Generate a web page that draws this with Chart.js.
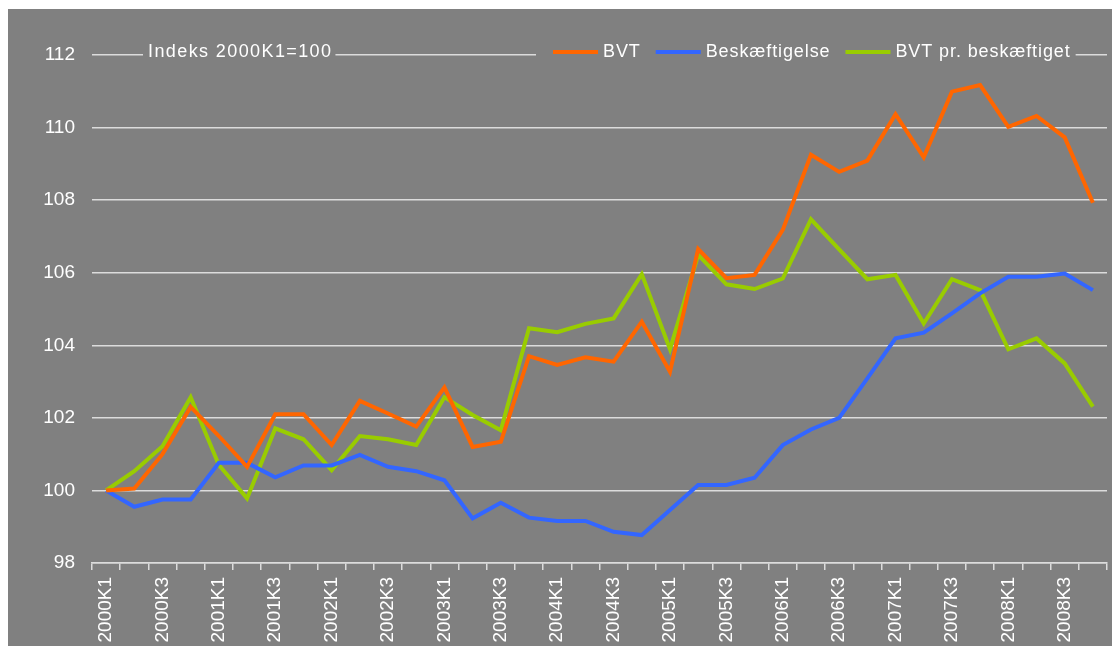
<!DOCTYPE html>
<html>
<head>
<meta charset="utf-8">
<script src="https://cdn.jsdelivr.net/npm/chart.js@4.4.1/dist/chart.umd.min.js"></script>
<style>
  html, body { margin: 0; padding: 0; background: #fff; }
  #wrap { position: absolute; left: 8px; top: 9px; width: 1104px; height: 637px; background: #808080; }
  canvas { display: block; }
</style>
</head>
<body>
<div id="wrap"><canvas id="c" width="1104" height="637"></canvas></div>
<script>
/* BVT, beskæftigelse og BVT pr. beskæftiget, indeks 2000K1=100 */

const NOTE = 'Indeks 2000K1=100';

const quarters = [
  '2000K1', '2000K2', '2000K3', '2000K4', '2001K1', '2001K2', '2001K3', '2001K4',
  '2002K1', '2002K2', '2002K3', '2002K4', '2003K1', '2003K2', '2003K3', '2003K4',
  '2004K1', '2004K2', '2004K3', '2004K4', '2005K1', '2005K2', '2005K3', '2005K4',
  '2006K1', '2006K2', '2006K3', '2006K4', '2007K1', '2007K2', '2007K3', '2007K4',
  '2008K1', '2008K2', '2008K3', '2008K4',
];

const bvt = [
  100.0, 100.05, 101.0, 102.3, 101.5, 100.65, 102.1, 102.1,
  101.25, 102.47, 102.12, 101.76, 102.84, 101.2, 101.34, 103.7,
  103.46, 103.67, 103.55, 104.65, 103.27, 106.65, 105.85, 105.94,
  107.18, 109.25, 108.78, 109.09, 110.37, 109.18, 110.99, 111.17,
  110.02, 110.32, 109.73, 107.93,
];

const beskaeftigelse = [
  100.0, 99.55, 99.75, 99.75, 100.76, 100.76, 100.36, 100.69,
  100.69, 100.98, 100.65, 100.53, 100.28, 99.23, 99.66, 99.25,
  99.16, 99.16, 98.86, 98.77, 99.46, 100.15, 100.15, 100.35,
  101.25, 101.68, 102.0, 103.09, 104.19, 104.35, 104.88, 105.43,
  105.89, 105.89, 105.98, 105.52,
];

const bvtPrBesk = [
  100.0, 100.53, 101.22, 102.57, 100.7, 99.78, 101.71, 101.41,
  100.56, 101.5, 101.41, 101.25, 102.57, 102.08, 101.66, 104.47,
  104.36, 104.59, 104.74, 105.96, 103.89, 106.49, 105.68, 105.55,
  105.84, 107.47, 106.64, 105.82, 105.94, 104.6, 105.82, 105.52,
  103.89, 104.19, 103.5, 102.31,
];

const yTicks = [98, 100, 102, 104, 106, 108, 110, 112];

const GRID = '#dcdcdc';
const TEXT = '#ffffff';
const BG = '#808080';

// legende + note tegnet oven på 112-linjen, med grå baggrund bag teksten
const topLegend = {
  id: 'topLegend',
  afterDraw(chart) {
    const ctx = chart.ctx;
    const yMid = chart.chartArea.top - 3;
    ctx.save();
    ctx.font = '18px "Liberation Sans", Arial, sans-serif';
    ctx.letterSpacing = '1.1px';
    ctx.textBaseline = 'middle';
    ctx.fillStyle = BG;

    // note til venstre
    const noteX = 140;
    ctx.letterSpacing = '1.4px';
    const noteW = ctx.measureText(NOTE).width;
    ctx.fillRect(noteX - 5, yMid - 11, noteW + 8, 22);
    ctx.fillStyle = TEXT;
    ctx.fillText(NOTE, noteX, yMid);
    ctx.letterSpacing = '0.9px';

    // serier
    const sw = 45, gap = 5, itemGap = 15;
    const items = chart.data.datasets.map((d) => ({ label: d.label, color: d.borderColor, w: ctx.measureText(d.label).width }));
    let total = items.reduce((s, it) => s + sw + gap + it.w, 0) + itemGap * (items.length - 1);
    let x = 545;
    ctx.fillStyle = BG;
    ctx.fillRect(x - 17, yMid - 11, total + 22, 22);
    items.forEach((it) => {
      ctx.strokeStyle = it.color;
      ctx.lineWidth = 4;
      ctx.beginPath();
      ctx.moveTo(x, yMid);
      ctx.lineTo(x + sw, yMid);
      ctx.stroke();
      x += sw + gap;
      ctx.fillStyle = TEXT;
      ctx.fillText(it.label, x, yMid);
      x += it.w + itemGap;
    });
    ctx.restore();
  },
};

new Chart(document.getElementById('c'), {
  type: 'line',
  data: {
    labels: quarters,
    datasets: [
      { label: 'BVT', data: bvt, borderColor: '#ff6600' },
      { label: 'Beskæftigelse', data: beskaeftigelse, borderColor: '#3366ff' },
      { label: 'BVT pr. beskæftiget', data: bvtPrBesk, borderColor: '#99cc00' },
    ].map((d) => ({ ...d, borderWidth: 4, pointRadius: 0, tension: 0, fill: false })),
  },
  options: {
    responsive: false,
    animation: false,
    layout: { padding: { top: 46, right: 5, left: 0, bottom: 0 } },
    plugins: { legend: { display: false }, tooltip: { enabled: false } },
    scales: {
      x: {
        offset: true,
        afterFit: (s) => { s.height = 83; s.paddingLeft = 0; s.paddingRight = 0; },
        grid: { offset: true, drawOnChartArea: false, color: GRID, lineWidth: 1.5, tickLength: 7 },
        border: { display: true, color: GRID, width: 1.5 },
        ticks: {
          autoSkip: false,
          minRotation: 90,
          maxRotation: 90,
          padding: 7,
          color: TEXT,
          font: { family: '"Liberation Sans", Arial, sans-serif', size: 19 },
          callback: (v, i) => (i % 2 === 0 ? quarters[i] : ''),
        },
      },
      y: {
        min: 98,
        max: 112,
        afterFit: (s) => { s.width = 84; },
        afterBuildTicks: (s) => { s.ticks = yTicks.map((v) => ({ value: v })); },
        grid: { color: GRID, lineWidth: 1.5, drawTicks: false },
        border: { display: false },
        ticks: {
          padding: 17,
          color: TEXT,
          font: { family: '"Liberation Sans", Arial, sans-serif', size: 19 },
        },
      },
    },
  },
  plugins: [topLegend],
});
</script>
</body>
</html>
